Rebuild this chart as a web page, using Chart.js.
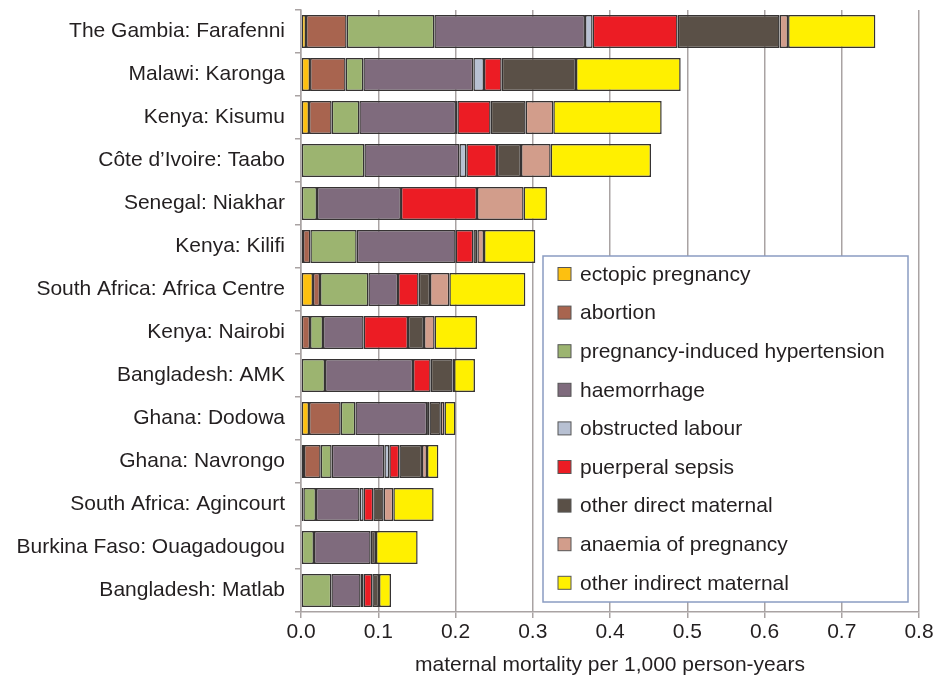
<!DOCTYPE html>
<html>
<head>
<meta charset="utf-8">
<script src="https://cdn.jsdelivr.net/npm/chart.js@4"></script>
<style>
  html, body { margin: 0; padding: 0; background: #fff; }
  #wrap { width: 937px; height: 683px; }
</style>
</head>
<body>
<div id="wrap"><canvas id="mmChart" width="937" height="683"></canvas></div>
<script>
// Maternal mortality by cause, per site
var sites = [
    'The Gambia: Farafenni', 'Malawi: Karonga', 'Kenya: Kisumu', 'Côte d’Ivoire: Taabo',
    'Senegal: Niakhar', 'Kenya: Kilifi', 'South Africa: Africa Centre', 'Kenya: Nairobi',
    'Bangladesh: AMK', 'Ghana: Dodowa', 'Ghana: Navrongo', 'South Africa: Agincourt',
    'Burkina Faso: Ouagadougou', 'Bangladesh: Matlab'
];

var ectopic      = [0.0065, 0.0117, 0.0104, null, null, 0.0026, 0.0155, null, null, 0.0104, 0.0039, 0.0030, null, null];
var abortion     = [0.0526, 0.0461, 0.0293, null, null, 0.0095, 0.0091, 0.0117, null, 0.0410, 0.0216, null, null, null];
var hypertension = [0.1135, 0.0229, 0.0358, 0.0820, 0.0207, 0.0600, 0.0626, 0.0168, 0.0311, 0.0190, 0.0142, 0.0164, 0.0168, 0.0393];
var haemorrhage  = [0.1950, 0.1424, 0.1251, 0.1230, 0.1087, 0.1281, 0.0384, 0.0526, 0.1139, 0.0928, 0.0682, 0.0565, 0.0734, 0.0379];
var obstructed   = [0.0099, 0.0138, 0.0018, 0.0090, null, null, null, null, null, 0.0030, 0.0064, 0.0052, null, 0.0039];
var sepsis       = [0.1100, 0.0229, 0.0431, 0.0397, 0.0984, 0.0229, 0.0267, 0.0574, 0.0229, null, 0.0130, 0.0125, null, 0.0112];
var otherDirect  = [0.1320, 0.0962, 0.0453, 0.0311, null, 0.0052, 0.0147, 0.0207, 0.0284, 0.0147, 0.0293, 0.0134, 0.0069, 0.0087];
var anaemia      = [0.0110, null, 0.0358, 0.0384, 0.0604, 0.0086, 0.0250, 0.0138, 0.0018, 0.0048, 0.0065, 0.0125, null, null];
var otherIndirect= [0.1130, 0.1355, 0.1403, 0.1299, 0.0302, 0.0664, 0.0984, 0.0548, 0.0271, 0.0142, 0.0147, 0.0522, 0.0539, 0.0155];

var causeNames = [
    'ectopic pregnancy', 'abortion', 'pregnancy-induced hypertension', 'haemorrhage',
    'obstructed labour', 'puerperal sepsis', 'other direct maternal', 'anaemia of pregnancy',
    'other indirect maternal'
];
var causeColors = ['#fdc010', '#a8644f', '#9cb470', '#7f6b7d', '#b7c0d2', '#ec1c24', '#5a5047', '#d29d8b', '#fff000'];
var causeValues = [ectopic, abortion, hypertension, haemorrhage, obstructed, sepsis, otherDirect, anaemia, otherIndirect];

var xTicks = [0, 0.1, 0.2, 0.3, 0.4, 0.5, 0.6, 0.7, 0.8];
var xTitle = 'maternal mortality per 1,000 person-years';

(function () {
    var font = "'Liberation Sans', Arial, sans-serif";
    var ink = '#231f20';
    var grid = '#a9a3a3';

    var datasets = causeNames.map(function (name, i) {
        return {
            label: name,
            data: causeValues[i],
            backgroundColor: causeColors[i],
            borderColor: '#363333',
            borderWidth: 1.5,
            borderSkipped: false,
            barPercentage: 0.77,
            categoryPercentage: 1
        };
    });

    // legend drawn as a framed box inside the plot, like the original
    var boxLegend = {
        id: 'boxLegend',
        afterDraw: function (chart) {
            var ctx = chart.ctx;
            var left = 543, top = 256, w = 365, h = 346;
            ctx.save();
            ctx.fillStyle = '#fff';
            ctx.fillRect(left, top, w, h);
            ctx.strokeStyle = '#8a9cc2';
            ctx.lineWidth = 1.5;
            ctx.strokeRect(left, top, w, h);
            ctx.font = '21px ' + font;
            ctx.textBaseline = 'middle';
            chart.data.datasets.forEach(function (ds, i) {
                var y = 274 + i * 38.6;
                ctx.fillStyle = ds.backgroundColor;
                ctx.fillRect(558, y - 6.5, 13, 13);
                ctx.strokeStyle = '#555';
                ctx.lineWidth = 1;
                ctx.strokeRect(558, y - 6.5, 13, 13);
                ctx.fillStyle = ink;
                ctx.fillText(ds.label, 580, y + 1);
            });
            ctx.restore();
        }
    };

    new Chart(document.getElementById('mmChart'), {
        type: 'bar',
        data: { labels: sites, datasets: datasets },
        plugins: [boxLegend],
        options: {
            indexAxis: 'y',
            responsive: false,
            animation: false,
            layout: { padding: { top: 10, right: 18, left: 0, bottom: 0 } },
            plugins: { legend: { display: false }, tooltip: { enabled: false } },
            scales: {
                x: {
                    stacked: true,
                    min: 0,
                    max: 0.8,
                    afterBuildTicks: function (scale) {
                        scale.ticks = xTicks.map(function (v) { return { value: v }; });
                    },
                    afterFit: function (scale) { scale.height = 71; },
                    grid: { color: grid, lineWidth: 1.5, tickLength: 6, tickColor: grid },
                    border: { color: grid, width: 1.5 },
                    ticks: {
                        color: ink,
                        font: { family: font, size: 21 },
                        padding: 2,
                        callback: function (v) { return Number(v).toFixed(1); }
                    },
                    title: {
                        display: true,
                        text: xTitle,
                        color: ink,
                        font: { family: font, size: 21 },
                        padding: { top: 0, bottom: 5 }
                    }
                },
                y: {
                    stacked: true,
                    afterFit: function (scale) {
                        scale.width = 301;
                        scale.paddingTop = 0;
                        scale.paddingBottom = 0;
                    },
                    grid: { offset: true, drawOnChartArea: false, tickLength: 6, color: grid, lineWidth: 1.5 },
                    border: { color: grid, width: 1.5 },
                    ticks: {
                        color: ink,
                        font: { family: font, size: 21 },
                        padding: 10
                    }
                }
            }
        }
    });
})();
</script>
</body>
</html>
